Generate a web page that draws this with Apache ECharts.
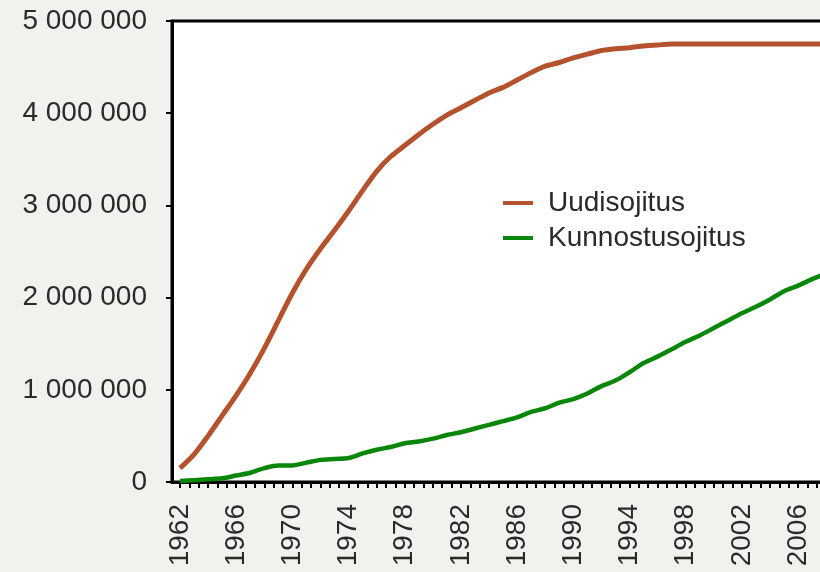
<!DOCTYPE html>
<html>
<head>
<meta charset="utf-8">
<script src="https://cdn.jsdelivr.net/npm/echarts@6/dist/echarts.min.js"></script>
<style>
html,body{margin:0;padding:0;background:#f2f1ed;}
#c{width:820px;height:572px;}
</style>
</head>
<body>
<div id="c"></div>
<script>
var years = [1962,1963,1964,1965,1966,1967,1968,1969,1970,1971,1972,1973,1974,1975,1976,1977,1978,1979,1980,1981,1982,1983,1984,1985,1986,1987,1988,1989,1990,1991,1992,1993,1994,1995,1996,1997,1998,1999,2000,2001,2002,2003,2004,2005,2006,2007,2008];
var uudisojitus = [150000,300000,500000,720000,940000,1180000,1450000,1750000,2050000,2310000,2530000,2730000,2940000,3160000,3370000,3530000,3650000,3770000,3880000,3980000,4060000,4140000,4220000,4280000,4360000,4440000,4510000,4550000,4600000,4640000,4680000,4700000,4710000,4730000,4740000,4750000,4750000,4750000,4750000,4750000,4750000,4750000,4750000,4750000,4750000,4750000,4750000];
var kunnostusojitus = [10000,20000,30000,40000,70000,100000,150000,180000,180000,210000,240000,250000,260000,310000,350000,380000,420000,440000,470000,510000,540000,580000,620000,660000,700000,760000,800000,860000,900000,960000,1040000,1100000,1190000,1290000,1360000,1440000,1520000,1590000,1670000,1750000,1830000,1900000,1980000,2070000,2130000,2200000,2260000];
var labelYears = [1962,1966,1970,1974,1978,1982,1986,1990,1994,1998,2002,2006];
var yTicks = [0,1000000,2000000,3000000,4000000,5000000];

var tickVals = [];
for (var k = 0; k <= 72; k++) tickVals.push(1962 + k * 2 / 3);

function pairs(arr){ return years.map(function(y,i){ return [y, arr[i]]; }); }

var FONT = "'Liberation Sans', Arial, sans-serif";
var TXT = '#2a2a2a';
var chart = echarts.init(document.getElementById('c'), null, {renderer:'canvas'});
chart.setOption({
  animation:false,
  backgroundColor:'#f2f1ed',
  grid:{left:172, top:21, bottom:90, right:-16, outerBoundsMode:'none', containLabel:false, show:true, backgroundColor:'#ffffff', borderColor:'#000', borderWidth:3},
  legend:{
    orient:'vertical', left:503, top:189, itemGap:7, itemWidth:30, itemHeight:4, icon:'rect', padding:0,
    textStyle:{fontFamily:FONT, fontSize:28, color:TXT, padding:[0,0,0,10]},
    data:['Uudisojitus','Kunnostusojitus']
  },
  xAxis:{
    type:'value', min:1961.43, max:2008.7,
    splitLine:{show:false},
    axisLine:{show:true, lineStyle:{color:'#000', width:3}},
    axisTick:{show:true, length:6, inside:false, lineStyle:{color:'#000', width:2}, customValues:tickVals},
    axisLabel:{rotate:90, margin:22, fontFamily:FONT, fontSize:28, color:TXT, customValues:labelYears, formatter:function(v){return String(Math.round(v));}}
  },
  yAxis:{
    type:'value', min:0, max:5000000, interval:1000000,
    splitLine:{show:false},
    axisLine:{show:true, lineStyle:{color:'#000', width:3}},
    axisTick:{show:true, length:6, lineStyle:{color:'#000', width:2}},
    axisLabel:{margin:25, fontFamily:FONT, fontSize:28, color:TXT,
      formatter:function(v){return String(v).replace(/\B(?=(\d{3})+(?!\d))/g,' ');}}
  },
  series:[
    {name:'Uudisojitus', type:'line', data:pairs(uudisojitus), showSymbol:false, symbol:'none', smooth:0.3,
     itemStyle:{color:'#b4522e'}, lineStyle:{color:'#b4522e', width:5}},
    {name:'Kunnostusojitus', type:'line', data:pairs(kunnostusojitus), showSymbol:false, symbol:'none', smooth:0.3,
     itemStyle:{color:'#0a870a'}, lineStyle:{color:'#0a870a', width:4.5}}
  ]
});
</script>
</body>
</html>
